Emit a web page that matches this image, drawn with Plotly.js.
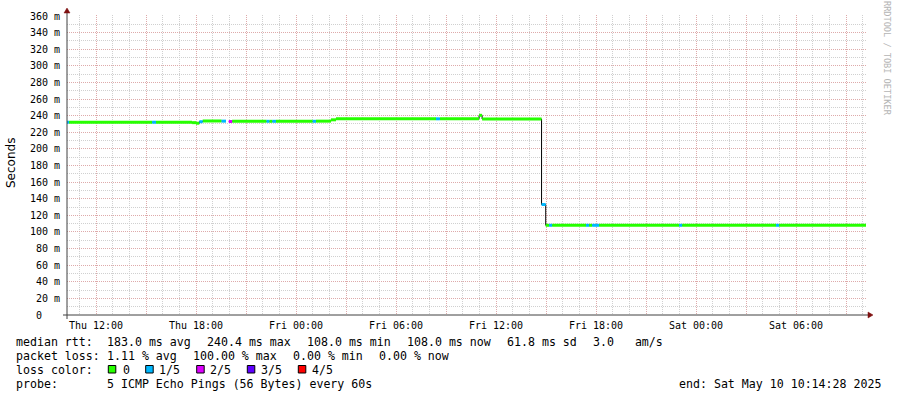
<!DOCTYPE html>
<html>
<head>
<meta charset="utf-8">
<script src="https://cdn.plot.ly/plotly-3.0.1.min.js"></script>
<style>html,body{margin:0;padding:0;background:#fff;}#chart{width:897px;height:397px;}</style>
</head>
<body>
<div id="chart"></div>
<script>
// ---- data ----
const segStart = [
  "2025-05-08 10:15:36","2025-05-08 10:23","2025-05-08 15:22","2025-05-08 15:36",
  "2025-05-08 17:46","2025-05-08 18:00","2025-05-08 18:12","2025-05-08 18:24",
  "2025-05-08 19:32","2025-05-08 19:48","2025-05-08 19:58","2025-05-08 20:10",
  "2025-05-08 22:14","2025-05-08 22:24","2025-05-08 22:35","2025-05-08 22:48",
  "2025-05-09 01:00","2025-05-09 01:12","2025-05-09 02:06","2025-05-09 02:24",
  "2025-05-09 08:24","2025-05-09 08:38","2025-05-09 10:59","2025-05-09 11:10",
  "2025-05-09 14:44","2025-05-09 14:59","2025-05-09 15:11","2025-05-09 15:22",
  "2025-05-09 17:24","2025-05-09 17:35","2025-05-09 17:46","2025-05-09 18:11",
  "2025-05-09 22:59","2025-05-09 23:10","2025-05-10 04:48","2025-05-10 04:59"
];
const lastSample = "2025-05-10 10:12";
const medianMs = [
  232.1, 232.1, 232.1, 232.1, 231.6, 230.9, 232.7, 233.6,
  233.4, null, 233.0, 233.2, 233.2, 233.2, 233.2, 233.2,
  233.2, 233.4, 235.0, 236.2, 236.2, 236.2, 240.4, 236.0,
  133.0, 108.0, 108.0, 108.0, 108.0, 108.0, 108.0, 108.0,
  108.0, 108.0, 108.0, 108.0
];
const lossLevel = [
  1, 0, 1, 0, 0, 0, 1, 0,
  1, null, 2, 0, 1, 0, 1, 0,
  1, 0, 0, 0, 1, 0, 0, 0,
  1, 0, 1, 0, 1, 0, 1, 0,
  1, 0, 1, 0
];
const lossLabels = ["0", "1/5", "2/5", "3/5", "4/5"];
const lossColors = ["#26ff00", "#00b8ff", "#dd00ff", "#5e00ff", "#ff0000"];

const timeTickVals = [
  "2025-05-08 12:00","2025-05-08 15:00","2025-05-08 18:00","2025-05-08 21:00",
  "2025-05-09 00:00","2025-05-09 03:00","2025-05-09 06:00","2025-05-09 09:00",
  "2025-05-09 12:00","2025-05-09 15:00","2025-05-09 18:00","2025-05-09 21:00",
  "2025-05-10 00:00","2025-05-10 03:00","2025-05-10 06:00","2025-05-10 09:00"
];
const timeTickText = [
  "Thu 12:00","","Thu 18:00","","Fri 00:00","","Fri 06:00","",
  "Fri 12:00","","Fri 18:00","","Sat 00:00","","Sat 06:00",""
];
const rttTickVals = [0,20,40,60,80,100,120,140,160,180,200,220,240,260,280,300,320,340,360];
const rttTickText = ["0\u00a0\u00a0\u00a0","20 m","40 m","60 m","80 m","100 m","120 m","140 m","160 m",
  "180 m","200 m","220 m","240 m","260 m","280 m","300 m","320 m","340 m","360 m"];

const statsRtt = ["median rtt:", "183.0 ms avg", "240.4 ms max", "108.0 ms min", "108.0 ms now", "61.8 ms sd", "3.0   am/s"];
const statsLoss = ["packet loss:", "1.11 % avg", "100.00 % max", "0.00 % min", "0.00 % now"];
const lossTitle = "loss color:";
const probeTitle = "probe:";
const probeText = "5 ICMP Echo Pings (56 Bytes) every 60s";
const endText = "end: Sat May 10 10:14:28 2025";
const watermark = "RRDTOOL / TOBI OETIKER";
const yTitle = "Seconds";

// ---- geometry helpers (pixel -> paper) ----
const L = 67, R = 867, T = 15, B = 315;
const px = x => (x - L) / (R - L);
const py = y => (B - y) / (B - T);
const nb = s => s.replace(/ /g, "\u00a0");

// ---- traces ----
const traces = [];
// thin black median step line underneath
traces.push({
  x: segStart.concat([lastSample]),
  y: medianMs.concat([medianMs[medianMs.length - 1]]),
  mode: "lines", line: {color: "#000000", width: 1, shape: "hv"},
  connectgaps: false, hoverinfo: "skip"
});
// colored segments by loss level
for (let lv = 0; lv < lossColors.length; lv++) {
  const xs = [], ys = [];
  for (let i = 0; i < segStart.length; i++) {
    if (lossLevel[i] !== lv || medianMs[i] === null) continue;
    const end = i + 1 < segStart.length ? segStart[i + 1] : lastSample;
    xs.push(segStart[i], end, null);
    ys.push(medianMs[i], medianMs[i], null);
  }
  traces.push({x: xs, y: ys, mode: "lines", line: {color: lossColors[lv], width: 3}, connectgaps: false, hoverinfo: "skip"});
}

// ---- annotations ----
const mono = {family: "DejaVu Sans Mono", size: 11.6, color: "#000"};
const ann = [];
function txt(text, x, y, opts) {
  ann.push(Object.assign({text: nb(text), xref: "paper", yref: "paper", x: px(x), y: py(y),
    xanchor: "left", yanchor: "middle", showarrow: false, font: mono, borderpad: 0, borderwidth: 0}, opts || {}));
}
const rttX = [16, 106.6, 206.6, 306.6, 406.6, 506.6, 592.6];
statsRtt.forEach((s, i) => txt(s, rttX[i], 341.5));
const lossX = [16, 106.6, 193.3, 292.6, 379.3];
statsLoss.forEach((s, i) => txt(s, lossX[i], 355.5));
txt(lossTitle, 16, 369.5);
const boxX = [108.3, 145.7, 196.7, 247.3, 298.3];
const labX = [123.3, 159.3, 210, 261, 312];
lossLabels.forEach((s, i) => txt(s, labX[i], 369.5));
txt(probeTitle, 16, 383.5);
txt(probeText, 106.6, 383.5);
txt(endText, 881, 383.5, {xanchor: "right"});
txt(yTitle, 11, 163, {xanchor: "center", textangle: -90, font: {family: "DejaVu Sans", size: 12, color: "#000"}});
txt(watermark, 887, 59, {xanchor: "center", textangle: 90, font: {family: "DejaVu Sans Mono", size: 8.6, color: "#b4b4b4"}});

// ---- shapes (axes, arrows, legend boxes) ----
const axisColor = "#404040", arrowColor = "#7f1010";
const shapes = [
  {type: "line", xref: "paper", yref: "paper", x0: px(63), x1: px(868), y0: py(315), y1: py(315), line: {color: axisColor, width: 1}, layer: "above"},
  {type: "line", xref: "paper", yref: "paper", x0: px(67), x1: px(67), y0: py(319), y1: py(12), line: {color: axisColor, width: 1}, layer: "above"},
  {type: "path", xref: "paper", yref: "paper", path: `M ${px(868)} ${py(312)} L ${px(873)} ${py(315)} L ${px(868)} ${py(318)} Z`, fillcolor: arrowColor, line: {color: arrowColor, width: 0.5}, layer: "above"},
  {type: "path", xref: "paper", yref: "paper", path: `M ${px(64)} ${py(13)} L ${px(67)} ${py(8)} L ${px(70)} ${py(13)} Z`, fillcolor: arrowColor, line: {color: arrowColor, width: 0.5}, layer: "above"}
];
boxX.forEach((bx, i) => shapes.push({type: "rect", xref: "paper", yref: "paper",
  x0: px(bx), x1: px(bx + 7.5), y0: py(365.5), y1: py(373), fillcolor: lossColors[i], line: {color: "#000", width: 1}}));

const majorGrid = "rgb(222,170,170)", minorGrid = "rgb(208,208,208)", dash = "1px,1px";
const layout = {
  width: 897, height: 397,
  margin: {l: L, r: 897 - R, t: T, b: 397 - B, pad: 0},
  paper_bgcolor: "#fff", plot_bgcolor: "#fff",
  showlegend: false,
  font: {family: "DejaVu Sans Mono", size: 10, color: "#000"},
  xaxis: {
    type: "date", range: ["2025-05-08 10:15:36", "2025-05-10 10:15:36"],
    tickmode: "array", tickvals: timeTickVals, ticktext: timeTickText,
    showgrid: true, gridcolor: majorGrid, griddash: dash, gridwidth: 1,
    minor: {dtick: 3600000, tick0: "2025-05-08 00:00", showgrid: true, gridcolor: minorGrid, griddash: dash, gridwidth: 1, ticks: ""},
    showline: false, zeroline: false, ticks: "", ticklabelstandoff: 3,
    tickfont: {family: "DejaVu Sans Mono", size: 10, color: "#000"}
  },
  yaxis: {
    range: [0, 361.2],
    tickmode: "array", tickvals: rttTickVals, ticktext: rttTickText,
    showgrid: true, gridcolor: majorGrid, griddash: dash, gridwidth: 1,
    minor: {dtick: 10, tick0: 0, showgrid: true, gridcolor: minorGrid, griddash: dash, gridwidth: 1, ticks: ""},
    showline: false, zeroline: false, ticks: "", ticklabelstandoff: 6,
    tickfont: {family: "DejaVu Sans Mono", size: 10, color: "#000"}
  },
  annotations: ann,
  shapes: shapes
};
Plotly.newPlot("chart", traces, layout, {staticPlot: true, displayModeBar: false});
</script>
</body>
</html>
